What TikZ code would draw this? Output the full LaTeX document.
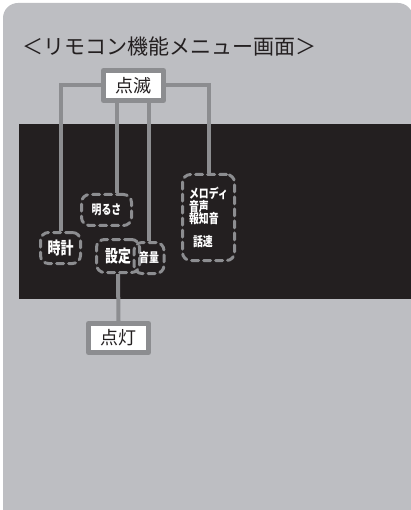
\documentclass[tikz,border=0pt]{standalone}
\usepackage{fontspec}
\newfontfamily\jpfont{Noto Sans CJK JP}
\newfontfamily\jpnarrow{Noto Sans CJK JP}[FakeStretch=0.76]
\usepackage{xcolor}
\definecolor{panelgray}{HTML}{BDBEC2}
\definecolor{screenblack}{HTML}{231F20}
\definecolor{framegray}{HTML}{8C8D90}
\tikzset{
  every picture/.style={line join=round, line cap=round},
  conn/.style={draw=framegray, line width=4pt, line cap=butt, line join=miter},
  labelbox/.style={draw=framegray, fill=white, line width=5pt, minimum width=60pt, minimum height=30pt, inner sep=0pt, text=screenblack, font=\jpfont\fontsize{18}{20}\selectfont},
  dashbox/.style={draw=framegray, line width=3pt, dash pattern=on 7pt off 5pt, rounded corners=8pt, inner sep=0pt, text=white},
  bigkey/.style={font=\jpnarrow\bfseries\fontsize{17}{18}\selectfont},
  smallkey/.style={font=\jpnarrow\bfseries\fontsize{13}{12.5}\selectfont},
}
\begin{document}
\begin{tikzpicture}[x=1pt,y=-1pt]
\useasboundingbox(0,0)rectangle(410,510);
\fill[panelgray,rounded corners=15pt](3,3)rectangle(413,530);
\fill[screenblack](19,124)rectangle(412,299);
\node[anchor=west,text=screenblack,font=\jpfont\fontsize{21}{24}\selectfont](title)at(19,47){＜リモコン機能メニュー画面＞};
\node[labelbox](tenmetsu)at(133.5,85.5){点滅};
\node[labelbox,minimum height=29pt](tento)at(118.5,338){点灯};
\node[dashbox,bigkey,minimum width=40pt,minimum height=31pt](tokei)at(60.5,248){時計};
\node[dashbox,smallkey,minimum width=50pt,minimum height=31pt](akarusa)at(106.5,210){明るさ};
\node[dashbox,bigkey,minimum width=43pt,minimum height=33pt](settei)at(118,256){設定};
\node[dashbox,smallkey,minimum width=30pt,minimum height=31pt](onryo)at(149,258){音量};
\node[dashbox,smallkey,align=left,minimum width=52pt,minimum height=86pt](melody)at(208.5,217.5){メロディ\\音声\\報知音\\[10pt]\hspace*{4pt}話速};
\draw[conn](tenmetsu.west)-|(tokei.north);
\draw[conn](tenmetsu.east)-|(melody.north);
\draw[conn]([xshift=-17pt]tenmetsu.south)--([xshift=-17pt]tenmetsu.south|-akarusa.north);
\draw[conn](tenmetsu.south-|onryo.north)--(onryo.north);
\draw[conn](settei.south)--(tento.north);
\end{tikzpicture}
\end{document}
